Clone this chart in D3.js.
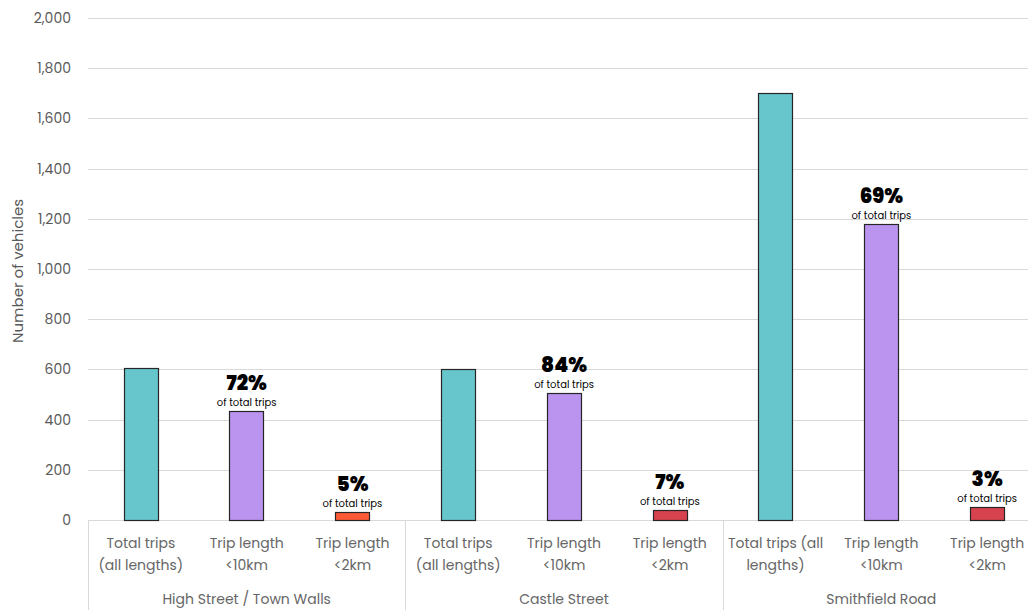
<!DOCTYPE html>
<html>
<head>
<meta charset="utf-8">
<script src="https://cdn.jsdelivr.net/npm/d3@7"></script>
<style>
  html, body { margin: 0; padding: 0; background: #fff; }
  svg { display: block; }
</style>
</head>
<body>
<svg id="chart" width="1028" height="610"></svg>
<script>
// Locations (outer axis level) and measures (inner axis level)
const groups = ["High Street / Town Walls", "Castle Street", "Smithfield Road"];
const measureKeys = ["total", "lt10", "lt2"];
const measureLabels = [
  [["Total trips", "(all lengths)"], ["Trip length", "<10km"], ["Trip length", "<2km"]],
  [["Total trips", "(all lengths)"], ["Trip length", "<10km"], ["Trip length", "<2km"]],
  [["Total trips (all", "lengths)"], ["Trip length", "<10km"], ["Trip length", "<2km"]]
];

// Vehicle counts per location: total, <10km, <2km
const totalTrips = [605, 600, 1703];
const tripsUnder10km = [435, 505, 1178];
const tripsUnder2km = [31, 41, 52];

// Share of total trips, shown above the shorter-trip bars
const shareUnder10km = ["72%", "84%", "69%"];
const shareUnder2km = ["5%", "7%", "3%"];

const yTicks = [0, 200, 400, 600, 800, 1000, 1200, 1400, 1600, 1800, 2000];

const colTotal = "#67c6cc";
const colUnder10 = "#bb94f0";
const colUnder2 = ["#ff5a36", "#d6434f", "#d6434f"];

const svg = d3.select("#chart");
const plotLeft = 88, plotRight = 1040, plotTop = 18, plotBottom = 520;
const font = "Poppins, Inter, 'Open Sans', sans-serif";

// Flatten to one record per bar
const bars = [];
groups.forEach((g, gi) => {
  const vals = [totalTrips[gi], tripsUnder10km[gi], tripsUnder2km[gi]];
  measureKeys.forEach((m, mi) => {
    bars.push({
      id: gi + "-" + m,
      group: g, gi, mi,
      value: vals[mi],
      lines: measureLabels[gi][mi],
      color: mi === 0 ? colTotal : mi === 1 ? colUnder10 : colUnder2[gi],
      share: mi === 1 ? shareUnder10km[gi] : mi === 2 ? shareUnder2km[gi] : null
    });
  });
});

const x = d3.scaleBand()
  .domain(bars.map(d => d.id))
  .range([plotLeft, plotRight])
  .paddingInner(0.675)
  .paddingOuter(0.3375);
const step = x.step();

const y = d3.scaleLinear().domain([0, 2000]).range([plotBottom, plotTop]);

// Gridlines
svg.append("g")
  .selectAll("line")
  .data(yTicks.filter(t => t > 0))
  .join("line")
  .attr("x1", plotLeft).attr("x2", 1028)
  .attr("y1", d => Math.round(y(d)) + 0.5).attr("y2", d => Math.round(y(d)) + 0.5)
  .attr("stroke", "#d9d9d9").attr("stroke-width", 1);

// Y axis tick labels
const yAxis = d3.axisLeft(y).tickValues(yTicks).tickFormat(d3.format(",")).tickSize(0).tickPadding(0);
const yg = svg.append("g").attr("transform", `translate(71,0)`).call(yAxis);
yg.select(".domain").remove();
yg.selectAll("text")
  .attr("font-family", font).attr("font-size", 14).attr("fill", "#595959");

// Y axis title
svg.append("text")
  .attr("transform", `translate(23,${(plotTop + plotBottom) / 2 + 2}) rotate(-90)`)
  .attr("text-anchor", "middle")
  .attr("font-family", font).attr("font-size", 15).attr("fill", "#595959")
  .text("Number of vehicles");

// Category axis: baseline plus group separators
svg.append("line")
  .attr("x1", plotLeft).attr("x2", 1028)
  .attr("y1", plotBottom + 0.5).attr("y2", plotBottom + 0.5)
  .attr("stroke", "#d9d9d9");

svg.append("g")
  .selectAll("line")
  .data(groups)
  .join("line")
  .attr("x1", (g, gi) => Math.round(plotLeft + gi * step * 3) + 0.5)
  .attr("x2", (g, gi) => Math.round(plotLeft + gi * step * 3) + 0.5)
  .attr("y1", plotBottom).attr("y2", 610)
  .attr("stroke", "#d9d9d9");

// Bars
svg.append("g")
  .selectAll("rect")
  .data(bars)
  .join("rect")
  .attr("x", d => Math.round(x(d.id)) + 0.5)
  .attr("y", d => Math.round(y(d.value)) + 0.5)
  .attr("width", Math.round(x.bandwidth()))
  .attr("height", d => Math.round(y(0)) - Math.round(y(d.value)))
  .attr("fill", d => d.color)
  .attr("stroke", "#262626").attr("stroke-width", 1.2);

// Category labels
const catLabels = svg.append("g")
  .selectAll("text")
  .data(bars)
  .join("text")
  .attr("text-anchor", "middle")
  .attr("font-family", font).attr("font-size", 14).attr("fill", "#666");
catLabels.each(function (d) {
  const cx = x(d.id) + x.bandwidth() / 2;
  d3.select(this).selectAll("tspan")
    .data(d.lines)
    .join("tspan")
    .attr("x", cx)
    .attr("y", (l, i) => 548 + i * 22)
    .text(l => l);
});

// Group labels
svg.append("g")
  .selectAll("text")
  .data(groups)
  .join("text")
  .attr("x", (g, gi) => plotLeft + (gi + 0.5) * step * 3)
  .attr("y", 604)
  .attr("text-anchor", "middle")
  .attr("font-family", font).attr("font-size", 14).attr("fill", "#666")
  .text(g => g);

// Share annotations above the shorter-trip bars
const ann = svg.append("g")
  .selectAll("g")
  .data(bars.filter(d => d.share))
  .join("g")
  .attr("transform", d => `translate(${x(d.id) + x.bandwidth() / 2},${y(d.value)})`);
ann.append("text")
  .attr("y", -21)
  .attr("text-anchor", "middle")
  .attr("font-family", "Poppins, Inter, sans-serif").attr("font-weight", 900).attr("font-size", 20)
  .attr("fill", "#000")
  .text(d => d.share);
ann.append("text")
  .attr("y", -5)
  .attr("text-anchor", "middle")
  .attr("font-family", font).attr("font-size", 10).attr("fill", "#000")
  .text("of total trips");
</script>
</body>
</html>
